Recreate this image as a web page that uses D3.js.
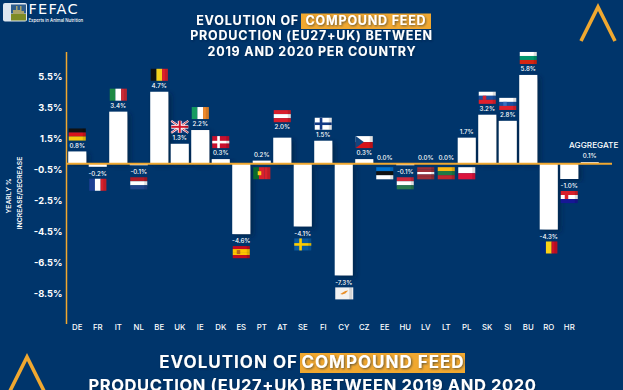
<!DOCTYPE html>
<html lang="en">
<head>
    <meta charset="UTF-8">
    <title>Evolution of compound feed production</title>
    <script src="https://d3js.org/d3.v7.min.js"></script>
    <style>
        body { margin: 0; background: #00356b; overflow: hidden; }
        svg { display: block; }
        text { font-family: Inter, "Open Sans", sans-serif; fill: #fff; }
        .title { font-weight: 700; }
        .tick text { fill: #fff; }
    </style>
</head>
<body>
<svg id="canvas" width="623" height="390"></svg>
<script>
    const countries = ["DE","FR","IT","NL","BE","UK","IE","DK","ES","PT","AT","SE","FI","CY","CZ","EE","HU","LV","LT","PL","SK","SI","BU","RO","HR","AGG"];
    // printed percentages
    const printed = [0.8,-0.2,3.4,-0.1,4.7,1.3,2.2,0.3,-4.6,0.2,2.0,-4.1,1.5,-7.3,0.3,0.0,-0.1,0.0,0.0,1.7,3.2,2.8,5.8,-4.3,-1.0,0.1];
    // bar heights as drawn (AT is drawn shorter than its label says)
    const barValues = [0.8,-0.2,3.4,-0.1,4.7,1.3,2.2,0.3,-4.6,0.2,1.7,-4.1,1.5,-7.3,0.3,0.0,-0.1,0.0,0.0,1.7,3.2,2.8,5.8,-4.3,-1.0,0.1];
    const tickValues = [5.5,3.5,1.5,-0.5,-2.5,-4.5,-6.5,-8.5];
    const flagBelowLine = ["PT","EE","LV","LT","PL"];

    const navy = "#00356b", orange = "#f0a830";

    const flags = {
        DE: {dir:"h", c:["#111","#d8141c","#f6c90e"]},
        FR: {dir:"v", c:["#1c3f94","#fff","#d8202c"]},
        IT: {dir:"v", c:["#1d8a44","#fff","#cf2b37"]},
        NL: {dir:"h", c:["#ae1c28","#fff","#21468b"]},
        BE: {dir:"v", c:["#111","#f6d21c","#e0202c"]},
        UK: {type:"uk"},
        IE: {dir:"v", c:["#169b62","#fff","#f08a2c"]},
        DK: {type:"nordic", c:["#c8102e","#fff"]},
        ES: {dir:"h", c:["#c60b1e","#ffc400","#ffc400","#c60b1e"], mark:"#b5651d"},
        PT: {dir:"v", c:["#0a6a2c","#d8202c","#d8202c"], mark:"#f6d21c"},
        AT: {dir:"h", c:["#d81e2c","#fff","#d81e2c"]},
        SE: {type:"nordic", c:["#0b5aa0","#fecc00"]},
        FI: {type:"nordic", c:["#fff","#123a85"]},
        CY: {type:"cy"},
        CZ: {type:"cz"},
        EE: {dir:"h", c:["#0072ce","#111","#fff"]},
        HU: {dir:"h", c:["#cd2a3e","#fff","#2a7a50"]},
        LV: {dir:"h", c:["#9e3039","#9e3039","#fff","#9e3039","#9e3039"]},
        LT: {dir:"h", c:["#fdb913","#1f7a44","#c1272d"]},
        PL: {dir:"h", c:["#fff","#dc143c"]},
        SK: {dir:"h", c:["#fff","#1a4fa0","#e0202c"], mark:"#d8202c"},
        SI: {dir:"h", c:["#fff","#1a4fa0","#e0202c"], mark:"#3a6fc0"},
        BU: {dir:"h", c:["#fff","#00966e","#d62612"]},
        RO: {dir:"v", c:["#002b7f","#fcd116","#ce1126"]},
        HR: {dir:"h", c:["#d8202c","#fff","#171796"], mark:"#d8202c"}
    };

    const svg = d3.select("#canvas");
    const defs = svg.append("defs");

    const barShadow = defs.append("filter").attr("id", "barShadow")
        .attr("x", "-30%").attr("y", "-20%").attr("width", "180%").attr("height", "140%");
    barShadow.append("feDropShadow").attr("dx", 3).attr("dy", 2).attr("stdDeviation", 2.5)
        .attr("flood-color", "#001c3d").attr("flood-opacity", 0.6);
    const textShadow = defs.append("filter").attr("id", "textShadow");
    textShadow.append("feDropShadow").attr("dx", 1).attr("dy", 1).attr("stdDeviation", 1)
        .attr("flood-color", "#001c3d").attr("flood-opacity", 0.6);

    svg.append("rect").attr("width", 623).attr("height", 390).attr("fill", navy);

    let x = d3.scaleBand().domain(countries).range([67, 600]).paddingInner(0.12).paddingOuter(0.06);
    let y = d3.scaleLinear().domain([0, 1]).range([163.7, 148.4]);
    // the tick labels in the picture do not sit quite on the bar scale
    let yTicks = d3.scaleLinear().domain([5.5, -8.5]).range([77, 294]);

    // bars
    svg.append("g").selectAll("rect")
        .data(countries)
        .enter().append("rect")
        .attr("x", d => x(d))
        .attr("width", x.bandwidth())
        .attr("y", (d, i) => Math.min(y(barValues[i]), y(0)))
        .attr("height", (d, i) => Math.abs(y(barValues[i]) - y(0)))
        .attr("fill", "#fff")
        .attr("filter", "url(#barShadow)");

    // axes
    let yAxis = d3.axisLeft(yTicks).tickValues(tickValues).tickSize(0).tickPadding(4)
        .tickFormat(d => d.toFixed(1) + "%");
    let yG = svg.append("g").attr("transform", "translate(66.5,0)").call(yAxis);
    yG.select(".domain").remove();
    yG.selectAll("text").style("font-size", "9.3px").style("font-weight", 700);
    svg.append("line").attr("x1", 66.5).attr("x2", 66.5).attr("y1", 52).attr("y2", 324)
        .attr("stroke", orange).attr("stroke-width", 1.5);

    let xAxis = d3.axisBottom(x).tickSize(0).tickPadding(2)
        .tickFormat(d => d === "AGG" ? "" : d);
    let xG = svg.append("g").attr("transform", "translate(0,322)").call(xAxis);
    xG.select(".domain").remove();
    xG.selectAll("text").style("font-size", "7.8px").style("font-weight", 500);

    svg.append("line").attr("x1", 66).attr("x2", 612).attr("y1", y(0)).attr("y2", y(0))
        .attr("stroke", orange).attr("stroke-width", 2);

    // value labels
    function labelY(i) {
        return printed[i] < 0 ? y(printed[i]) + 7 : y(printed[i]) - 6;
    }
    svg.append("g").selectAll("text")
        .data(countries)
        .enter().append("text")
        .attr("x", d => x(d) + x.bandwidth() / 2)
        .attr("y", (d, i) => labelY(i))
        .attr("dy", "0.35em")
        .attr("text-anchor", "middle")
        .style("font-size", "6.2px")
        .style("font-weight", 500)
        .text((d, i) => printed[i].toFixed(1) + "%");

    svg.append("text").attr("x", x("AGG") + x.bandwidth() / 2 + 4).attr("y", 145).attr("dy", "0.35em")
        .attr("text-anchor", "middle").style("font-size", "8.2px").style("font-weight", 500).text("AGGREGATE");

    // flags
    const fw = 17, fh = 12;
    function drawFlag(g, f) {
        if (f.dir === "h") {
            f.c.forEach((c, i) => g.append("rect").attr("y", i * fh / f.c.length).attr("width", fw)
                .attr("height", fh / f.c.length + 0.1).attr("fill", c));
        } else if (f.dir === "v") {
            f.c.forEach((c, i) => g.append("rect").attr("x", i * fw / f.c.length).attr("width", fw / f.c.length + 0.1)
                .attr("height", fh).attr("fill", c));
        } else if (f.type === "nordic") {
            g.append("rect").attr("width", fw).attr("height", fh).attr("fill", f.c[0]);
            g.append("rect").attr("x", 5).attr("width", 2.6).attr("height", fh).attr("fill", f.c[1]);
            g.append("rect").attr("y", 4.7).attr("width", fw).attr("height", 2.6).attr("fill", f.c[1]);
        } else if (f.type === "uk") {
            g.append("rect").attr("width", fw).attr("height", fh).attr("fill", "#1f3a80");
            g.append("path").attr("d", `M0,0L${fw},${fh}M${fw},0L0,${fh}`).attr("stroke", "#fff").attr("stroke-width", 2.2);
            g.append("path").attr("d", `M0,0L${fw},${fh}M${fw},0L0,${fh}`).attr("stroke", "#cf142b").attr("stroke-width", 0.8);
            g.append("rect").attr("x", 6.6).attr("width", 3.8).attr("height", fh).attr("fill", "#fff");
            g.append("rect").attr("y", 4.1).attr("width", fw).attr("height", 3.8).attr("fill", "#fff");
            g.append("rect").attr("x", 7.5).attr("width", 2).attr("height", fh).attr("fill", "#cf142b");
            g.append("rect").attr("y", 5).attr("width", fw).attr("height", 2).attr("fill", "#cf142b");
        } else if (f.type === "cz") {
            g.append("rect").attr("width", fw).attr("height", fh / 2).attr("fill", "#fff");
            g.append("rect").attr("y", fh / 2).attr("width", fw).attr("height", fh / 2).attr("fill", "#d7141a");
            g.append("path").attr("d", `M0,0L8,${fh / 2}L0,${fh}Z`).attr("fill", "#11457e");
        } else if (f.type === "cy") {
            g.append("rect").attr("width", fw + 1).attr("height", fh).attr("fill", "#f2f2f2");
            g.append("path").attr("d", "M5,6.5L10,3.5L13,3L10,6L7,7Z").attr("fill", "#e8902c");
        }
        // small coat of arms, where the flag has one
        if (f.mark) g.append("rect").attr("x", f.dir === "v" ? 4.5 : 4).attr("y", 4).attr("width", 3.5).attr("height", 4).attr("fill", f.mark);
        // darker fold at the right hand edge
        g.append("rect").attr("x", fw - 3).attr("width", 3).attr("height", fh).attr("fill", "#000").attr("opacity", 0.12);
    }
    countries.forEach((c, i) => {
        if (!flags[c]) return;
        let cy;
        if (flagBelowLine.includes(c)) cy = y(0) + 9.5;
        else cy = printed[i] < 0 ? labelY(i) + 11 : labelY(i) - 11;
        let g = svg.append("g").attr("transform", `translate(${x(c) + x.bandwidth() / 2 - fw / 2},${cy - fh / 2})`);
        drawFlag(g, flags[c]);
    });

    // y axis title
    svg.append("text").attr("transform", "translate(9,196) rotate(-90)").attr("text-anchor", "middle")
        .style("font-size", "6.8px").style("font-weight", 600).attr("dy", "0.35em").text("YEARLY %");
    svg.append("text").attr("transform", "translate(20,193) rotate(-90)").attr("text-anchor", "middle")
        .style("font-size", "6.8px").style("font-weight", 600).attr("dy", "0.35em").text("INCREASE/DECREASE");

    // titles
    function titleLine(txt, cx, cy, size, spacing, anchor) {
        return svg.append("text").attr("class", "title").attr("x", cx).attr("y", cy).attr("dy", "0.35em")
            .attr("text-anchor", anchor || "middle").style("font-size", size + "px")
            .style("letter-spacing", spacing + "px")
            .attr("filter", "url(#textShadow)").text(txt);
    }
    svg.append("rect").attr("x", 301).attr("y", 13.5).attr("width", 130).attr("height", 15.5).attr("fill", orange);
    titleLine("EVOLUTION OF", 299, 20.5, 12.5, 0.8, "end");
    titleLine("COMPOUND FEED", 366, 20.5, 12.5, 0.8);
    titleLine("PRODUCTION (EU27+UK) BETWEEN", 311.5, 36, 12.5, 0.8);
    titleLine("2019 AND 2020 PER COUNTRY", 312, 51.5, 12.5, 0.8);

    svg.append("rect").attr("x", 300).attr("y", 353).attr("width", 165).attr("height", 20).attr("fill", orange);
    titleLine("EVOLUTION OF", 298, 362.5, 17, 1, "end");
    titleLine("COMPOUND FEED", 383, 362.5, 17, 1);
    titleLine("PRODUCTION (EU27+UK) BETWEEN 2019 AND 2020", 312.5, 385, 16.5, 0.63);

    // corner chevrons
    function chevron(ax, ay, halfW, h) {
        let p = d3.path();
        p.moveTo(ax - halfW, ay + h);
        p.lineTo(ax, ay);
        p.lineTo(ax + halfW, ay + h);
        svg.append("path").attr("d", p.toString()).attr("fill", "none")
            .attr("stroke", orange).attr("stroke-width", 3.6).attr("stroke-linejoin", "miter");
    }
    chevron(598, 7, 17, 34);
    chevron(27, 357, 17, 34);

    // logo
    let logo = svg.append("g").attr("transform", "translate(3,3)");
    logo.append("rect").attr("width", 24).attr("height", 18.5).attr("rx", 2).attr("fill", "#dfe7ef");
    logo.append("rect").attr("x", 8).attr("y", 1.5).attr("width", 15).attr("height", 9).attr("fill", "#2e5d8c");
    logo.append("rect").attr("x", 8).attr("y", 11).attr("width", 15).attr("height", 6.5).attr("fill", "#7d8b26");
    logo.append("path").attr("d", "M10,11V7H13V3H14.5V7H17V3H18.5V8H21V11Z").attr("fill", "#a9a36a");
    svg.append("text").attr("x", 28.5).attr("y", 9.3).attr("dy", "0.35em").style("font-family", "'DejaVu Sans'")
        .style("font-size", "14.5px").style("letter-spacing", "1.2px").text("FEFAC");
    svg.append("text").attr("x", 28.5).attr("y", 20.3).attr("dy", "0.35em").style("font-size", "4.3px")
        .style("font-weight", 500).text("Experts in Animal Nutrition");
</script>
</body>
</html>
